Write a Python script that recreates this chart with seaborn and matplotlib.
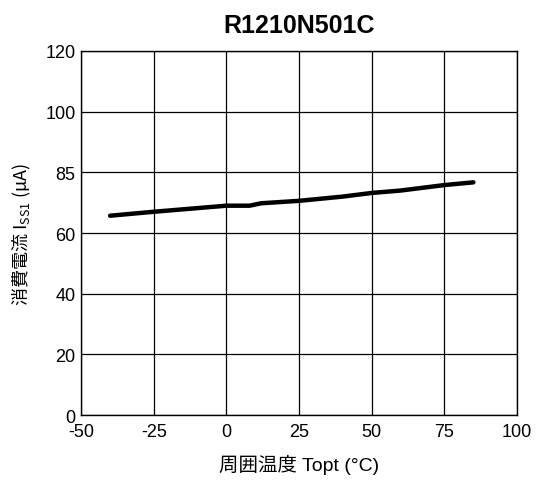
import pandas as pd
import seaborn as sns
import matplotlib.pyplot as plt

temp = [-40, -25, 0, 8, 12, 25, 40, 50, 60, 75, 85]
current = [65.7, 67.0, 69.0, 69.0, 69.8, 70.6, 72.0, 73.2, 74.0, 75.8, 76.7]

yticks = [0, 20, 40, 60, 80, 100, 120]
ylabels = ["0", "20", "40", "60", "85", "100", "120"]
xticks = [-50, -25, 0, 25, 50, 75, 100]

df = pd.DataFrame({"temp": temp, "current": current})

sns.set_style("white")
plt.rcParams["font.family"] = ["Liberation Sans", "Noto Sans CJK JP", "DejaVu Sans"]
plt.rcParams["axes.unicode_minus"] = False
plt.rcParams["mathtext.fontset"] = "custom"
plt.rcParams["mathtext.rm"] = "Noto Sans CJK JP"
plt.rcParams["mathtext.default"] = "rm"
plt.rcParams["text.color"] = "black"
plt.rcParams["axes.labelcolor"] = "black"

fig = plt.figure(figsize=(5.38, 4.81), dpi=100)
ax = fig.add_axes([0.1506, 0.135, 0.8104, 0.757])

sns.lineplot(data=df, x="temp", y="current", color="black", linewidth=3.2, ax=ax)

ax.set_xlim(-50, 100)
ax.set_ylim(0, 120)
ax.set_xticks(xticks)
ax.set_yticks(yticks)
ax.set_yticklabels(ylabels)
ax.grid(True, color="black", linewidth=0.9)
for s in ax.spines.values():
    s.set_color("black")
    s.set_linewidth(1.0)
ax.tick_params(labelsize=13, length=0, colors="black")
ax.tick_params(axis="x", pad=6)
ax.tick_params(axis="y", pad=4)

ax.set_xlabel("周囲温度 Topt (°C)", fontsize=14, labelpad=10)
ax.set_ylabel(r"消費電流 I$_{\mathrm{SS1}}$ (µA)", fontsize=13, labelpad=9,
              family="Noto Sans CJK JP")
ax.set_title("R1210N501C", fontsize=18, fontweight="bold", pad=14, color="black")

fig.savefig("out.png", dpi=100)
